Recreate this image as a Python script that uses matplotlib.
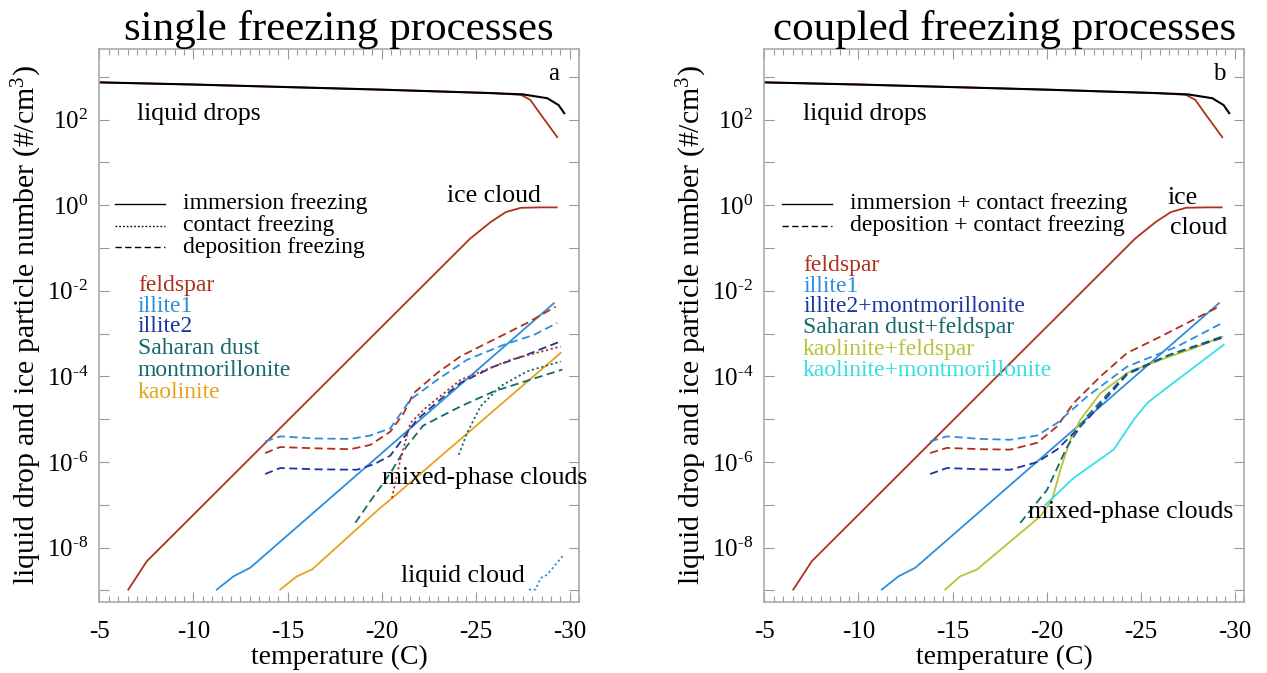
import numpy as np
import matplotlib
matplotlib.use("Agg")
import matplotlib.pyplot as plt
from matplotlib.ticker import FixedLocator, MultipleLocator, FuncFormatter

plt.rcParams['font.family'] = ['Liberation Serif', 'DejaVu Serif']
plt.rcParams['mathtext.fontset'] = 'custom'
plt.rcParams['mathtext.rm'] = 'Liberation Serif'
plt.rcParams['mathtext.it'] = 'Liberation Serif:italic'
plt.rcParams['axes.unicode_minus'] = False

# ---------------- data (temperature in C, log10 of number in #/cm3) -------------
# liquid drops (total) and liquid drops with feldspar immersion
drops_T = [-5, -10, -15, -20, -25.8, -27.5, -28.8, -29.4, -29.7]
drops_logN = [2.87, 2.82, 2.76, 2.70, 2.62, 2.59, 2.50, 2.34, 2.15]
drops_fs_T = [-5, -10, -15, -20, -25.8, -27.4, -27.9, -28.4, -29.33]
drops_fs_logN = [2.87, 2.82, 2.76, 2.70, 2.62, 2.58, 2.46, 2.15, 1.59]

# immersion freezing (solid)
feldspar_imm_T = [-6.54, -7.52, -20.46, -24.7, -25.8, -26.6, -27.4, -28.5, -29.3]
feldspar_imm_logN = [-8.98, -8.32, -2.64, -0.78, -0.39, -0.16, -0.06, -0.05, -0.05]
illite1_imm_T = [-11.24, -12.13, -13.02, -29.15]
illite1_imm_logN = [-8.98, -8.67, -8.47, -2.29]
kaolinite_imm_T = [-14.61, -15.50, -16.30, -19.93, -20.46, -29.51]
kaolinite_imm_logN = [-8.98, -8.67, -8.51, -7.07, -6.88, -3.45]

# deposition freezing (dashed)
feldspar_dep_T = [-13.81, -14.61, -16.5, -18.34, -19.4, -20.46, -21.17, -21.70, -22.95, -24.19, -25.96, -27.73, -29.24]
feldspar_dep_logN = [-5.79, -5.65, -5.68, -5.70, -5.60, -5.29, -4.86, -4.39, -3.92, -3.53, -3.14, -2.75, -2.37]
illite1_dep_T = [-13.81, -14.61, -16.5, -18.34, -19.4, -20.46, -21.53, -22.95, -24.54, -26.49, -28.09, -29.33]
illite1_dep_logN = [-5.52, -5.40, -5.45, -5.46, -5.38, -5.21, -4.54, -4.08, -3.61, -3.26, -3.03, -2.75]
illite2_dep_T = [-13.81, -14.61, -16.5, -18.69, -19.6, -20.46, -21.88, -23.30, -24.19, -25.96, -27.73, -29.51]
illite2_dep_logN = [-6.28, -6.14, -6.17, -6.18, -6.05, -5.85, -5.01, -4.47, -4.15, -3.77, -3.49, -3.18]
sahara_dep_T = [-18.60, -19.5, -20.46, -21.3, -22.2, -24.19, -25.96, -27.73, -29.60]
sahara_dep_logN = [-7.42, -6.85, -6.26, -5.65, -5.15, -4.70, -4.35, -4.10, -3.84]

# contact freezing (dotted)
feldspar_con_T = [-20.55, -20.99, -21.53, -22.3, -24.19, -26.85, -29.51]
feldspar_con_logN = [-6.84, -5.95, -5.09, -4.75, -4.08, -3.61, -3.30]
montmor_con_T = [-24.10, -24.54, -25.25, -26.31, -27.73, -29.51]
montmor_con_logN = [-5.83, -5.32, -4.70, -4.23, -3.88, -3.65]
illite1_con_T = [-27.82, -28.18, -28.44, -28.80, -29.68]
illite1_con_logN = [-8.98, -8.98, -8.71, -8.63, -8.16]

# coupled processes (right panel)
kaofel_T = [-14.61, -15.41, -16.30, -19.66, -20.29, -20.73, -21.26, -21.79, -22.86, -24.28, -26.05, -27.82, -29.33]
kaofel_logN = [-8.98, -8.67, -8.51, -7.27, -6.88, -6.18, -5.48, -5.01, -4.39, -3.92, -3.61, -3.34, -3.07]
kaomont_T = [-19.93, -21.44, -23.56, -24.63, -25.34, -26.94, -29.41]
kaomont_logN = [-7.00, -6.37, -5.71, -5.01, -4.62, -4.08, -3.26]
c_feldspar_dep_T = [-13.81, -14.70, -16.5, -18.07, -19.5, -20.55, -21.44, -22.86, -24.28, -26.05, -29.15]
c_feldspar_dep_logN = [-5.79, -5.67, -5.70, -5.71, -5.55, -5.17, -4.62, -4.00, -3.45, -3.07, -2.37]
c_illite1_dep_T = [-13.81, -14.70, -16.5, -18.07, -19.5, -20.55, -22.15, -24.28, -26.94, -29.33]
c_illite1_dep_logN = [-5.52, -5.40, -5.46, -5.48, -5.38, -5.09, -4.47, -3.77, -3.30, -2.75]
c_illite2_dep_T = [-13.81, -14.70, -16.5, -18.07, -19.5, -20.55, -22.15, -24.28, -26.5, -29.33]
c_illite2_dep_logN = [-6.28, -6.14, -6.17, -6.18, -6.00, -5.71, -5.01, -3.95, -3.50, -3.07]
c_sahara_dep_T = [-18.60, -20.02, -21.09, -22.15, -24.28, -26.5, -29.33]
c_sahara_dep_logN = [-7.42, -6.65, -5.64, -4.93, -3.92, -3.50, -3.10]

x_ticks = [-5, -10, -15, -20, -25, -30]
y_label_decades = [2, 0, -2, -4, -6, -8]

# ---------------- style ----------------
C_FELD = '#b0301c'
C_ILL1 = '#2b8fde'
C_ILL2 = '#1a34a0'
C_SAH = '#14696c'
C_MONT = '#14696c'
C_KAO = '#e8a21c'
C_KF = '#b9c23a'
C_KM = '#33e0e4'
DASH = (0, (4.5, 2.5))
DOT = (0, (1.2, 1.5))
LW = 1.3

W, H = 1267, 673
fig = plt.figure(figsize=(W / 100, H / 100), dpi=100)
ax_l = fig.add_axes([99.3 / W, (H - 602) / H, 480 / W, 553 / H])
ax_r = fig.add_axes([764.3 / W, (H - 602) / H, 480 / W, 553 / H])


def P(lst):
    return 10.0 ** np.asarray(lst)


def setup(ax, title, letter):
    ax.set_yscale('log')
    ax.set_xlim(-5, -30.5)
    ax.set_ylim(10 ** -9.27, 10 ** 3.65)
    ax.xaxis.set_major_locator(FixedLocator(x_ticks))
    ax.xaxis.set_minor_locator(MultipleLocator(0.5))
    ax.yaxis.set_major_locator(FixedLocator([10.0 ** k for k in range(-9, 4)]))
    ax.yaxis.set_minor_locator(FixedLocator([]))

    def yfmt(v, pos):
        k = int(round(np.log10(v)))
        if k in y_label_decades:
            return r'$\mathrm{10}^{\mathrm{%s}}$' % (str(k).replace('-', '\u2010'))
        return ''
    ax.yaxis.set_major_formatter(FuncFormatter(yfmt))
    ax.xaxis.set_major_formatter(FuncFormatter(lambda v, p: '%d' % v))
    ax.tick_params(which='both', direction='in', top=True, right=True, color='#999999')
    ax.tick_params(which='major', length=7, width=0.8, labelsize=18)
    ax.tick_params(axis='x', which='major', pad=14)
    ax.tick_params(axis='y', which='major', pad=8)
    ax.tick_params(which='minor', length=4, width=0.8)
    for s in ax.spines.values():
        s.set_color('#aaaaaa')
        s.set_linewidth(1.2)
    ax.set_xlabel('temperature (C)', fontsize=20, labelpad=1)
    ax.set_ylabel(r'liquid drop and ice particle number (#/cm$^{\mathrm{3}}$)', fontsize=21.5, labelpad=2)
    ax.set_title(title, fontsize=31, pad=6)
    ax.text(0.935, 0.955, letter, transform=ax.transAxes, fontsize=18, ha='left', va='center')


def ax_xy(px, py, x0):
    return ((px - x0) / 480.0, (602 - py) / 553.0)


# ---------------- left panel ----------------
ax = ax_l
setup(ax, 'single freezing processes', 'a')
ax.plot(drops_fs_T, P(drops_fs_logN), color=C_FELD, lw=LW)
ax.plot(drops_T, P(drops_logN), color='black', lw=1.5)
ax.plot(feldspar_imm_T, P(feldspar_imm_logN), color=C_FELD, lw=LW)
ax.plot(illite1_imm_T, P(illite1_imm_logN), color=C_ILL1, lw=LW)
ax.plot(kaolinite_imm_T, P(kaolinite_imm_logN), color=C_KAO, lw=LW)
ax.plot(feldspar_dep_T, P(feldspar_dep_logN), color=C_FELD, lw=LW, ls=DASH)
ax.plot(illite1_dep_T, P(illite1_dep_logN), color=C_ILL1, lw=LW, ls=DASH)
ax.plot(illite2_dep_T, P(illite2_dep_logN), color=C_ILL2, lw=LW, ls=DASH)
ax.plot(sahara_dep_T, P(sahara_dep_logN), color=C_SAH, lw=LW, ls=DASH)
ax.plot(feldspar_con_T, P(feldspar_con_logN), color=C_FELD, lw=LW, ls=DOT)
ax.plot(montmor_con_T, P(montmor_con_logN), color=C_MONT, lw=LW, ls=DOT)
ax.plot(illite1_con_T, P(illite1_con_logN), color=C_ILL1, lw=LW, ls=DOT)

x0 = 99.3
for (py, ls, lab) in [(204, '-', 'immersion freezing'), (226, DOT, 'contact freezing'), (247, DASH, 'deposition freezing')]:
    a, b = ax_xy(115, py, x0)
    c, _ = ax_xy(165, py, x0)
    ax.plot([a, c], [b, b], transform=ax.transAxes, color='black', lw=1.0, ls=ls)
    t, _ = ax_xy(183, py, x0)
    ax.text(t, b, lab, transform=ax.transAxes, fontsize=17, va='center', ha='left')
for (py, col, lab) in [(286, C_FELD, 'feldspar'), (307, C_ILL1, 'illite1'), (327, C_ILL2, 'illite2'),
                       (348, C_SAH, 'Saharan dust'), (370, C_MONT, 'montmorillonite'), (392, C_KAO, 'kaolinite')]:
    a, b = ax_xy(138, py, x0)
    ax.text(a, b, lab, transform=ax.transAxes, fontsize=17, color=col, va='center', ha='left')
for (px, py, lab) in [(137, 114, 'liquid drops'), (447, 196, 'ice cloud'),
                      (382, 478, 'mixed-phase clouds'), (401, 576, 'liquid cloud')]:
    a, b = ax_xy(px, py, x0)
    ax.text(a, b, lab, transform=ax.transAxes, fontsize=18.5, va='center', ha='left')

# ---------------- right panel ----------------
ax = ax_r
setup(ax, 'coupled freezing processes', 'b')
ax.plot(drops_fs_T, P(drops_fs_logN), color=C_FELD, lw=LW)
ax.plot(drops_T, P(drops_logN), color='black', lw=1.5)
ax.plot(feldspar_imm_T, P(feldspar_imm_logN), color=C_FELD, lw=LW)
ax.plot(illite1_imm_T, P(illite1_imm_logN), color=C_ILL1, lw=LW)
ax.plot(kaofel_T, P(kaofel_logN), color=C_KF, lw=LW)
ax.plot(kaomont_T, P(kaomont_logN), color=C_KM, lw=LW)
ax.plot(c_feldspar_dep_T, P(c_feldspar_dep_logN), color=C_FELD, lw=LW, ls=DASH)
ax.plot(c_illite1_dep_T, P(c_illite1_dep_logN), color=C_ILL1, lw=LW, ls=DASH)
ax.plot(c_illite2_dep_T, P(c_illite2_dep_logN), color=C_ILL2, lw=LW, ls=DASH)
ax.plot(c_sahara_dep_T, P(c_sahara_dep_logN), color=C_SAH, lw=LW, ls=DASH)

x0 = 764.3
for (py, ls, lab) in [(204, '-', 'immersion + contact freezing'), (226, DASH, 'deposition + contact freezing')]:
    a, b = ax_xy(782, py, x0)
    c, _ = ax_xy(832, py, x0)
    ax.plot([a, c], [b, b], transform=ax.transAxes, color='black', lw=1.0, ls=ls)
    t, _ = ax_xy(850, py, x0)
    ax.text(t, b, lab, transform=ax.transAxes, fontsize=17, va='center', ha='left')
for (py, col, lab) in [(265, C_FELD, 'feldspar'), (286, C_ILL1, 'illite1'), (307, C_ILL2, 'illite2+montmorillonite'),
                       (327, C_SAH, 'Saharan dust+feldspar'), (349, C_KF, 'kaolinite+feldspar'),
                       (370, C_KM, 'kaolinite+montmorillonite')]:
    a, b = ax_xy(803, py, x0)
    ax.text(a, b, lab, transform=ax.transAxes, fontsize=17, color=col, va='center', ha='left')
for (px, py, lab) in [(803, 114, 'liquid drops'), (1168, 198, 'ice'), (1170, 228, 'cloud'),
                      (1028, 512, 'mixed-phase clouds')]:
    a, b = ax_xy(px, py, x0)
    ax.text(a, b, lab, transform=ax.transAxes, fontsize=18.5, va='center', ha='left')

fig.savefig('out.png', dpi=100)
